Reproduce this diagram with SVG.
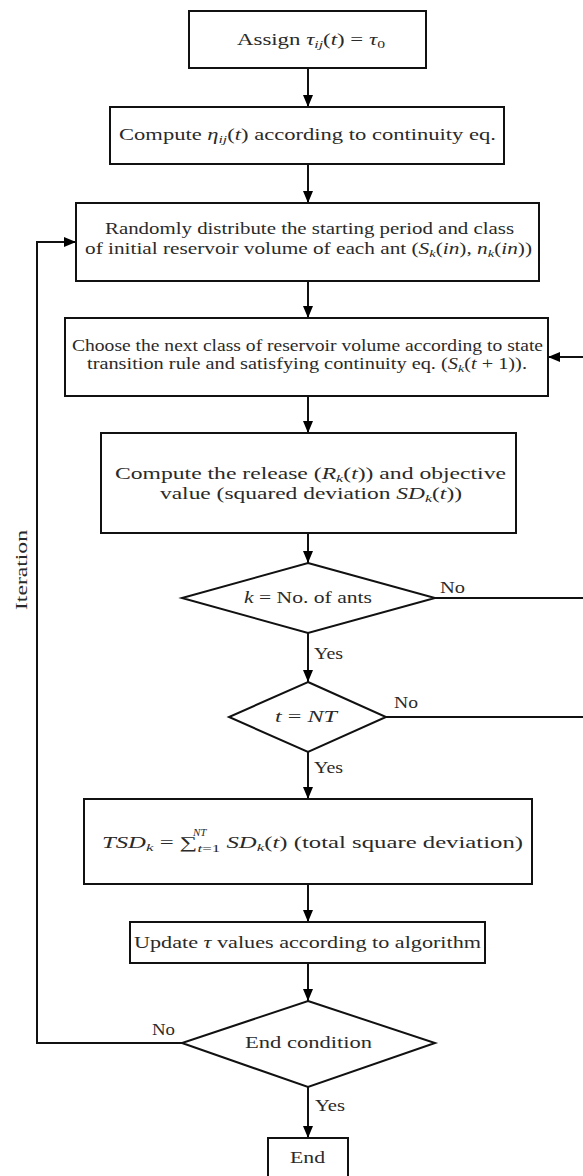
<svg xmlns="http://www.w3.org/2000/svg" width="583" height="1176" viewBox="0 0 583 1176">
<defs>
<marker id="ah" viewBox="0 0 12 10" refX="12" refY="5" markerWidth="12" markerHeight="10" markerUnits="userSpaceOnUse" orient="auto">
<path d="M0,0 L12,5 L0,10 Z" fill="#000"/>
</marker>
<style>
.box{fill:#fff;stroke:#111;stroke-width:2}
.t{font-family:"Liberation Serif","Times New Roman",serif;font-size:16px;fill:#2a2a2a}
.lbl{font-family:"Liberation Serif","Times New Roman",serif;font-size:16px;fill:#2a2a2a}
.i{font-style:italic}
.s{font-size:11px}
.c{fill:none;stroke:#111;stroke-width:2}
</style>
</defs>
<rect width="583" height="1176" fill="#fff"/>

<g id="connectors">
<path class="c" d="M308,68 V107" marker-end="url(#ah)"/>
<path class="c" d="M308,164 V203" marker-end="url(#ah)"/>
<path class="c" d="M308,281 V318" marker-end="url(#ah)"/>
<path class="c" d="M308,396 V433" marker-end="url(#ah)"/>
<path class="c" d="M308,533 V563" marker-end="url(#ah)"/>
<path class="c" d="M308,633 V682" marker-end="url(#ah)"/>
<path class="c" d="M308,752 V799" marker-end="url(#ah)"/>
<path class="c" d="M308,884 V922" marker-end="url(#ah)"/>
<path class="c" d="M308,963 V1001" marker-end="url(#ah)"/>
<path class="c" d="M308,1087 V1138" marker-end="url(#ah)"/>
<path class="c" d="M182,1043 H37 V242 H76" marker-end="url(#ah)"/>
<path class="c" d="M435,598 H592 V357 H548" marker-end="url(#ah)"/>
<path class="c" d="M386,717 H592"/>
<text class="lbl" x="314" y="659" textLength="29" lengthAdjust="spacingAndGlyphs">Yes</text>
<text class="lbl" x="314" y="773" textLength="29" lengthAdjust="spacingAndGlyphs">Yes</text>
<text class="lbl" x="315" y="1111" textLength="30" lengthAdjust="spacingAndGlyphs">Yes</text>
<text class="lbl" x="440" y="593" textLength="25" lengthAdjust="spacingAndGlyphs">No</text>
<text class="lbl" x="394" y="708" textLength="24" lengthAdjust="spacingAndGlyphs">No</text>
<text class="lbl" x="152" y="1035" textLength="23" lengthAdjust="spacingAndGlyphs">No</text>
<text class="lbl" transform="translate(27,570) rotate(-90)" text-anchor="middle" textLength="80" lengthAdjust="spacingAndGlyphs">Iteration</text>
</g>

<g id="n1">
<rect class="box" x="189" y="11" width="237" height="57"/>
<text class="t" x="237" y="45" textLength="148" lengthAdjust="spacingAndGlyphs">Assign <tspan class="i">τ</tspan><tspan class="i s" dy="3">ij</tspan><tspan dy="-3">(</tspan><tspan class="i">t</tspan>) = <tspan class="i">τ</tspan><tspan class="s" dy="3">0</tspan></text>
</g>

<g id="n2">
<rect class="box" x="110" y="107" width="394" height="57"/>
<text class="t" x="119" y="140" textLength="377" lengthAdjust="spacingAndGlyphs">Compute <tspan class="i">η</tspan><tspan class="i s" dy="3">ij</tspan><tspan dy="-3">(</tspan><tspan class="i">t</tspan>) according to continuity eq.</text>
</g>

<g id="n3">
<rect class="box" x="76" y="203" width="463" height="78"/>
<text class="t" x="105" y="234" textLength="409" lengthAdjust="spacingAndGlyphs">Randomly distribute the starting period and class</text>
<text class="t" x="85" y="254" textLength="447" lengthAdjust="spacingAndGlyphs">of initial reservoir volume of each ant (<tspan class="i">S</tspan><tspan class="i s" dy="3">k</tspan><tspan dy="-3">(</tspan><tspan class="i">in</tspan>), <tspan class="i">n</tspan><tspan class="i s" dy="3">k</tspan><tspan dy="-3">(</tspan><tspan class="i">in</tspan>))</text>
</g>

<g id="n4">
<rect class="box" x="65" y="318" width="483" height="78"/>
<text class="t" x="72" y="351" textLength="471" lengthAdjust="spacingAndGlyphs">Choose the next class of reservoir volume according to state</text>
<text class="t" x="87" y="369" textLength="440" lengthAdjust="spacingAndGlyphs">transition rule and satisfying continuity eq. (<tspan class="i">S</tspan><tspan class="i s" dy="3">k</tspan><tspan dy="-3">(</tspan><tspan class="i">t</tspan> + 1)).</text>
</g>

<g id="n5">
<rect class="box" x="101" y="433" width="415" height="100"/>
<text class="t" x="115" y="479" textLength="391" lengthAdjust="spacingAndGlyphs">Compute the release (<tspan class="i">R</tspan><tspan class="i s" dy="3">k</tspan><tspan dy="-3">(</tspan><tspan class="i">t</tspan>)) and objective</text>
<text class="t" x="160" y="499" textLength="302" lengthAdjust="spacingAndGlyphs">value (squared deviation <tspan class="i">SD</tspan><tspan class="i s" dy="3">k</tspan><tspan dy="-3">(</tspan><tspan class="i">t</tspan>))</text>
</g>

<g id="n6">
<polygon class="box" points="308,563 435,598 308,633 182,598"/>
<text class="t" x="244" y="603" textLength="128" lengthAdjust="spacingAndGlyphs"><tspan class="i">k</tspan> = No. of ants</text>
</g>

<g id="n7">
<polygon class="box" points="308,682 386,717 308,752 229,717"/>
<text class="t" x="275" y="722" textLength="62" lengthAdjust="spacingAndGlyphs"><tspan class="i">t</tspan> = <tspan class="i">NT</tspan></text>
</g>

<g id="n8">
<rect class="box" x="84" y="799" width="448" height="85"/>
<text class="t" x="102" y="848" textLength="421" lengthAdjust="spacingAndGlyphs"><tspan class="i">TSD</tspan><tspan class="i s" dy="3">k</tspan><tspan dy="-3"> = ∑</tspan><tspan class="s" dy="4"><tspan class="i">t</tspan>=1</tspan><tspan dy="-4"> </tspan><tspan class="i">SD</tspan><tspan class="i s" dy="3">k</tspan><tspan dy="-3">(</tspan><tspan class="i">t</tspan>) (total square deviation)</text>
<text class="t i s" x="193" y="836">NT</text>
</g>

<g id="n9">
<rect class="box" x="130" y="922" width="355" height="41"/>
<text class="t" x="134" y="948" textLength="347" lengthAdjust="spacingAndGlyphs">Update <tspan class="i">τ</tspan> values according to algorithm</text>
</g>

<g id="n10">
<polygon class="box" points="308,1001 435,1043 308,1087 182,1043"/>
<text class="t" x="245" y="1048" textLength="127" lengthAdjust="spacingAndGlyphs">End condition</text>
</g>

<g id="n11">
<rect class="box" x="268" y="1138" width="80" height="40"/>
<text class="t" x="290" y="1163" textLength="35" lengthAdjust="spacingAndGlyphs">End</text>
</g>
</svg>
